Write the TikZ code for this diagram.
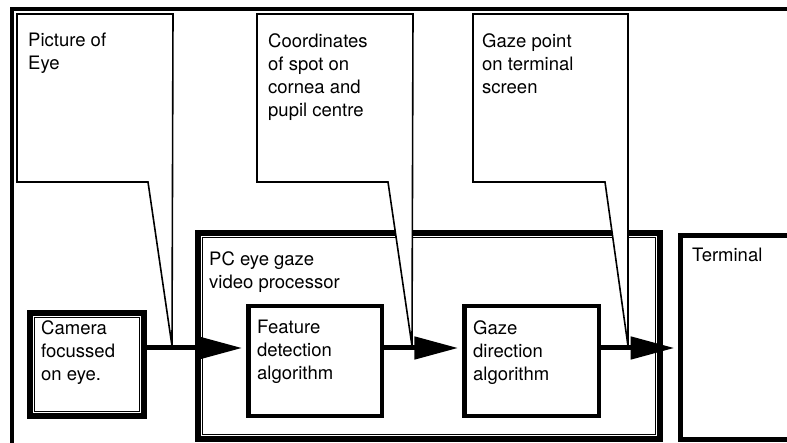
\documentclass[tikz,border=0pt]{standalone}
\usepackage{fontspec}
\setmainfont{TeX Gyre Heros}
\usetikzlibrary{arrows.meta}
\begin{document}
\begin{tikzpicture}[x=1pt, y=-1pt,
    lbl/.style={anchor=north west, inner sep=0pt, align=left,
      font=\fontsize{18.5}{23}\selectfont},
    callout/.style={line width=1.6pt, line join=miter},
    procbox/.style={draw, line width=4.5pt, outer sep=0pt},
    bigbox/.style={draw, line width=8pt, outer sep=0pt},
    flow/.style={line width=5pt, -{Triangle[length=44pt,width=22pt]}}]
  \useasboundingbox (0,0) rectangle (787,443);
  \clip (0,0) rectangle (787,443);
  % Frame
  \draw[line width=4.3pt] (787,9) -- (12,9) -- (12,443);
  % Boxes
  \node[bigbox, minimum width=112pt, minimum height=101pt] (cam) at (87,364.5) {};
  \node[bigbox, minimum width=460pt, minimum height=204pt] (pc) at (429,336) {};
  \node[procbox, minimum width=133.5pt, minimum height=109.5pt] (feat) at (315,361) {};
  \node[procbox, minimum width=134.5pt, minimum height=109.5pt] (gaze) at (531.5,361) {};
  \node[draw, line width=5pt, outer sep=0pt, minimum width=140pt, minimum height=204pt] (term) at (750.5,337.5) {};
  % white line inside the heavy borders
  \draw[white, line width=0.7pt] ([shift={(2.6,2.6)}]cam.north west) rectangle ([shift={(-2.6,-2.6)}]cam.south east);
  \draw[white, line width=0.7pt] ([shift={(2.6,2.6)}]pc.north west) rectangle ([shift={(-2.6,-2.6)}]pc.south east);
  % Labels
  \node[lbl] (camtxt) at (41,320) {Camera\\focussed\\on eye.};
  \node[lbl] (pctxt) at (209,251) {PC eye gaze\\video processor};
  \node[lbl] (feattxt) at (257,320) {Feature\\detection\\algorithm};
  \node[lbl] (gazetxt) at (473,320) {Gaze\\direction\\algorithm};
  \node[lbl] (termtxt) at (692,248) {Terminal};
  % Flow arrows
  \draw[flow] (cam.east |- 0,348) -- ([xshift=-6pt]feat.west |- 0,348);
  \draw[flow] (feat.east |- 0,348) -- ([xshift=-6pt]gaze.west |- 0,348);
  \draw[flow] (gaze.east |- 0,348) -- ([xshift=-6pt]term.west |- 0,348);
  % Callouts
  \coordinate (tip1) at (172,346);
  \coordinate (tip2) at (412,346);
  \coordinate (tip3) at (628,346);
  \draw[callout, fill=white] (17,14) -- (173,14) -- (tip1) -- (148,182) -- (17,182) -- cycle;
  \draw[callout, fill=white] (257,14) -- (413,14) -- (tip2) -- (388,182) -- (257,182) -- cycle;
  \draw[callout, fill=white] (473,14) -- (628,14) -- (tip3) -- (605,182) -- (473,182) -- cycle;
  \node[lbl] (eyetxt) at (28,33) {Picture of\\Eye};
  \node[lbl] (spottxt) at (268,33) {Coordinates\\of spot on\\cornea and\\pupil centre};
  \node[lbl] (pointtxt) at (482,33) {Gaze point\\on terminal\\screen};
\end{tikzpicture}
\end{document}
